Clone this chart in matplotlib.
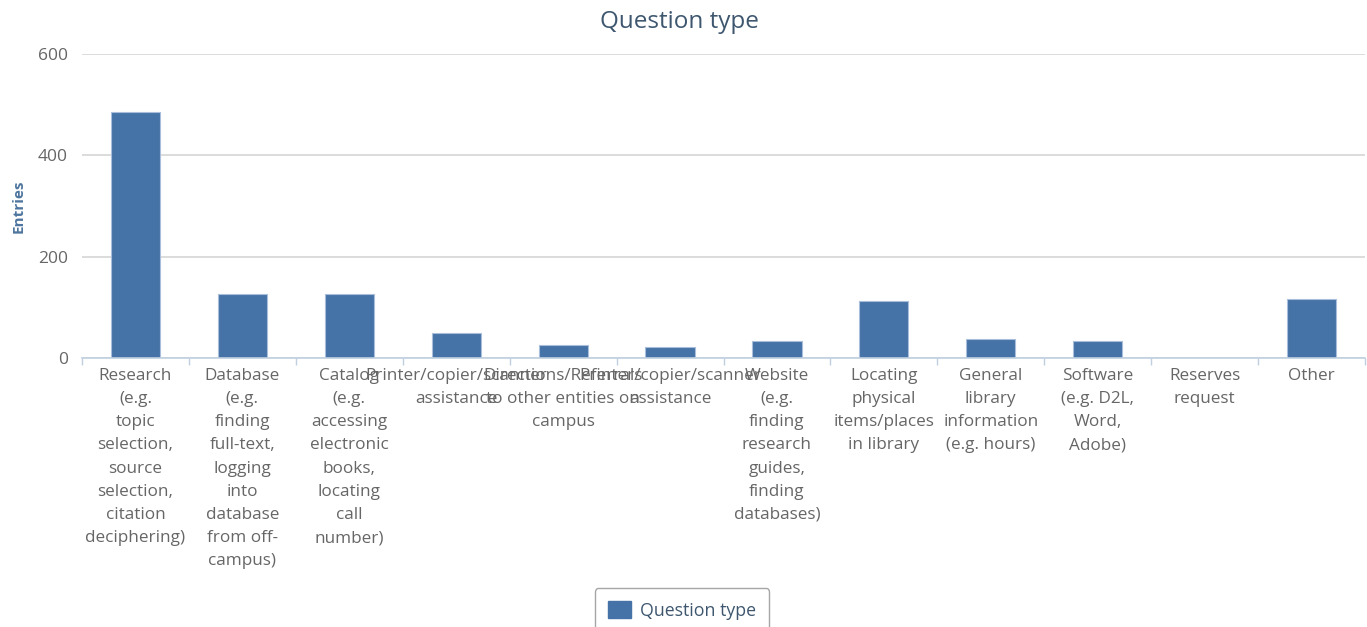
import matplotlib
matplotlib.use("Agg")
import matplotlib.pyplot as plt
from matplotlib.patches import Patch
import numpy as np

# Category labels (pre-wrapped) and counts per question type
categories = [
    "Research\n(e.g.\ntopic\nselection,\nsource\nselection,\ncitation\ndeciphering)",
    "Database\n(e.g.\nfinding\nfull-text,\nlogging\ninto\ndatabase\nfrom off-\ncampus)",
    "Catalog\n(e.g.\naccessing\nelectronic\nbooks,\nlocating\ncall\nnumber)",
    "Printer/copier/scanner\nassistance",
    "Directions/Referrals\nto other entities on\ncampus",
    "Printer/copier/scanner\nassistance",
    "Website\n(e.g.\nfinding\nresearch\nguides,\nfinding\ndatabases)",
    "Locating\nphysical\nitems/places\nin library",
    "General\nlibrary\ninformation\n(e.g. hours)",
    "Software\n(e.g. D2L,\nWord,\nAdobe)",
    "Reserves\nrequest",
    "Other",
]
entries = [485, 126, 126, 49, 26, 22, 34, 112, 37, 33, 0, 116]
yticks = [0, 200, 400, 600]

series_name = "Question type"
title = "Question type"
ylabel = "Entries"

FONT = ["Open Sans", "DejaVu Sans"]
plt.rcParams["font.family"] = FONT

BAR = "#4572A7"
TEXT = "#666666"

fig = plt.figure(figsize=(13.67, 6.27), dpi=100)
ax = fig.add_axes([82 / 1367, (627 - 358) / 627, (1365 - 82) / 1367, 304 / 627])

x = np.arange(len(categories))
ax.bar(x, entries, width=0.46, color=BAR, edgecolor="#a9bedb", linewidth=0.8, zorder=3)

ax.set_xlim(-0.5, len(categories) - 0.5)
ax.set_ylim(0, 600)
ax.set_yticks(yticks)
ax.set_yticklabels([str(v) for v in yticks], fontsize=12.5, color=TEXT)
ax.grid(axis="y", color="#d9d9d9", linewidth=1.3, zorder=0)
ax.tick_params(axis="y", length=0, pad=10)

ax.set_xticks(x)
ax.set_xticklabels(categories, fontsize=12.3, color=TEXT, linespacing=1.6)
ax.tick_params(axis="x", which="major", length=0, pad=7)
ax.set_xticks(np.arange(len(categories) + 1) - 0.5, minor=True)
ax.tick_params(axis="x", which="minor", length=5, color="#C0D0E0", width=1)

for side in ("top", "right", "left"):
    ax.spines[side].set_visible(False)
ax.spines["bottom"].set_color("#C0D0E0")
ax.spines["bottom"].set_linewidth(1.2)
ax.spines["bottom"].set_zorder(4)

ax.set_ylabel(ylabel, fontsize=11, color="#4d759e", fontweight="bold")
ax.yaxis.set_label_coords(-0.044, 0.5)

fig.text(0.497, 0.965, title, ha="center", va="center", fontsize=17.5, color="#3E576F")

fig.legend(handles=[Patch(facecolor=BAR, edgecolor=BAR, label=series_name)],
           loc="upper center", bbox_to_anchor=(0.499, (627 - 588) / 627), fontsize=12.8,
           frameon=True, fancybox=True, edgecolor="#909090", labelcolor="#3E576F",
           handlelength=1.3, handleheight=1.1, handletextpad=0.5, borderpad=0.75,
           borderaxespad=0)

fig.savefig("out.png", dpi=100)
